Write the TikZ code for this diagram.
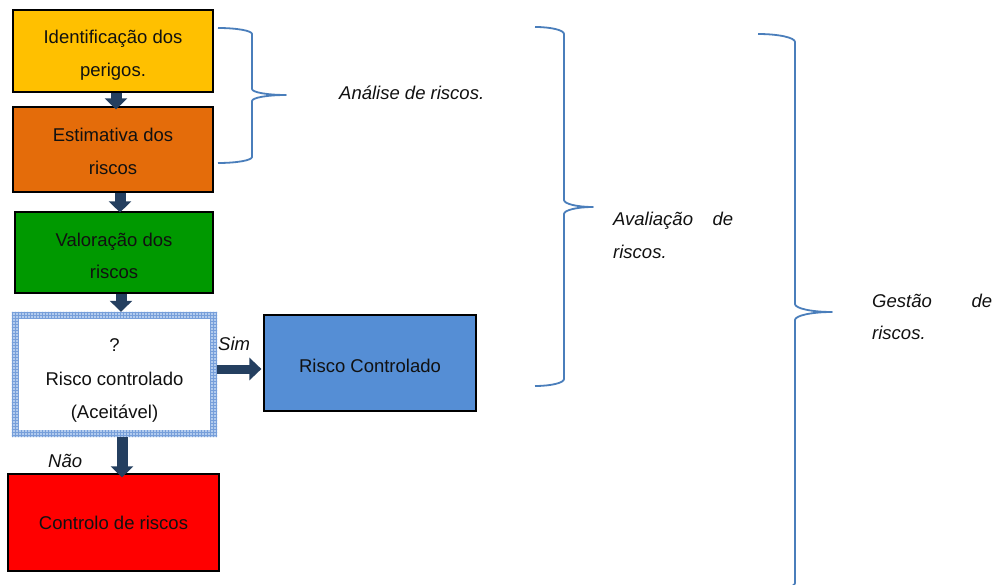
\documentclass[tikz,border=0pt]{standalone}
\usepackage{fontspec}
\setmainfont{Liberation Sans}
\usetikzlibrary{arrows.meta,patterns}

\definecolor{yellowbox}{HTML}{FFC000}
\definecolor{orangebox}{HTML}{E46C0A}
\definecolor{greenbox}{HTML}{009900}
\definecolor{bluebox}{HTML}{558ED5}
\definecolor{redbox}{HTML}{FF0000}
\definecolor{arrowblue}{HTML}{243F60}
\definecolor{bracecol}{HTML}{4A7EBB}
\definecolor{chkbase}{HTML}{B3CCEE}
\definecolor{chkline}{HTML}{779FDA}
\definecolor{ink}{HTML}{111111}

% right curly brace: x0, y top, y tip, y bottom, half width, corner radius
\newcommand\riskbrace[6]{%
  \draw[brace] (#1,#2)
    .. controls ({#1+0.552*#5},#2) and ({#1+#5},{#2+#6-0.552*#6}) .. ({#1+#5},{#2+#6})
    -- ({#1+#5},{#3-#6})
    .. controls ({#1+#5},{#3-#6+0.552*#6}) and ({#1+2*#5-0.552*#5},#3) .. ({#1+2*#5},#3)
    .. controls ({#1+2*#5-0.552*#5},#3) and ({#1+#5},{#3+#6-0.552*#6}) .. ({#1+#5},{#3+#6})
    -- ({#1+#5},{#4-#6})
    .. controls ({#1+#5},{#4-#6+0.552*#6}) and ({#1+0.552*#5},#4) .. (#1,#4);}

% invisible strut that lowers the text block inside a box
\newcommand\lowerby[1]{\rule{0pt}{#1}}

\begin{document}
\begin{tikzpicture}[x=1pt,y=-1pt,
  font=\fontsize{18.5}{32.5}\selectfont,
  text=ink,
  box/.style={draw=black, line width=1.2pt, align=center, inner sep=0pt},
  flow/.style={draw=arrowblue, line width=11pt, -{Triangle[width=22pt,length=11pt]}},
  flowh/.style={draw=arrowblue, line width=9pt, -{Triangle[width=22pt,length=12pt]}},
  brace/.style={draw=bracecol, line width=1.8pt, line join=round},
  note/.style={font=\fontsize{18.5}{32.5}\selectfont\itshape, inner sep=0pt, anchor=base west}
]
\useasboundingbox (0,0) rectangle (996,585);

% process boxes
\node[box, fill=yellowbox, minimum width=200pt, minimum height=82pt] (ident) at (113,51)
  {\lowerby{22pt}Identificação dos\\perigos.};
\node[box, fill=orangebox, minimum width=200pt, minimum height=85pt] (estim) at (113,149.5)
  {\lowerby{17.5pt}Estimativa dos\\riscos};
\node[box, fill=greenbox, minimum width=198pt, minimum height=81pt] (valor) at (114,252.5)
  {\lowerby{20.5pt}Valoração dos\\riscos};
\node[fill=white, align=center, inner sep=0pt, minimum width=205pt, minimum height=125pt,
  font=\fontsize{18.5}{33.5}\selectfont] (check) at (114.5,374.5)
  {\lowerby{25.5pt}?\\Risco controlado\\(Aceitável)};
\node[box, fill=bluebox, minimum width=212pt, minimum height=96pt] (ok) at (370,363)
  {\lowerby{19.5pt}Risco Controlado};
\node[box, fill=redbox, minimum width=211pt, minimum height=97pt] (ctrl) at (113.5,522.5)
  {\lowerby{15pt}Controlo de riscos};

% textured frame of the decision box
\fill[chkbase, even odd rule] (check.north west) rectangle (check.south east)
  ([xshift=7pt,yshift=-7pt]check.north west) rectangle ([xshift=-7pt,yshift=7pt]check.south east);
\fill[pattern=grid, pattern color=chkline, even odd rule] (check.north west) rectangle (check.south east)
  ([xshift=7pt,yshift=-7pt]check.north west) rectangle ([xshift=-7pt,yshift=7pt]check.south east);

% flow arrows
\draw[flow] ([xshift=3pt]ident.south) -- ([xshift=3pt,yshift=-3pt]estim.north);
\draw[flow] ([xshift=7pt]estim.south) -- ([xshift=6pt,yshift=-1pt]valor.north);
\draw[flow] ([xshift=7pt]valor.south) -- ([xshift=6.5pt]check.north);
\draw[flowh] (check.east |- 0,369) -- ([xshift=-2pt]ok.west |- 0,369);
\draw[flow] ([xshift=7.5pt]check.south) -- ([xshift=8.5pt,yshift=-4pt]ctrl.north);

% branch labels
\node[note] (sim) at (218,350) {Sim};
\node[note] (nao) at (48,467) {Não};

% grouping braces
\riskbrace{218}{28}{95}{163}{34}{6}
\riskbrace{535}{27}{207}{386}{29}{7}
\riskbrace{758}{34}{312}{591}{37}{8}

\node[note] (analise) at (339,100) {Análise de riscos.};
\node[note] (aval1) at (613,226) {\hbox to 120pt{Avaliação\hfill de}};
\node[note] (aval2) at (613,259) {riscos.};
\node[note] (gest1) at (872,308) {\hbox to 120pt{Gestão\hfill de}};
\node[note] (gest2) at (872,339) {riscos.};
\end{tikzpicture}
\end{document}
